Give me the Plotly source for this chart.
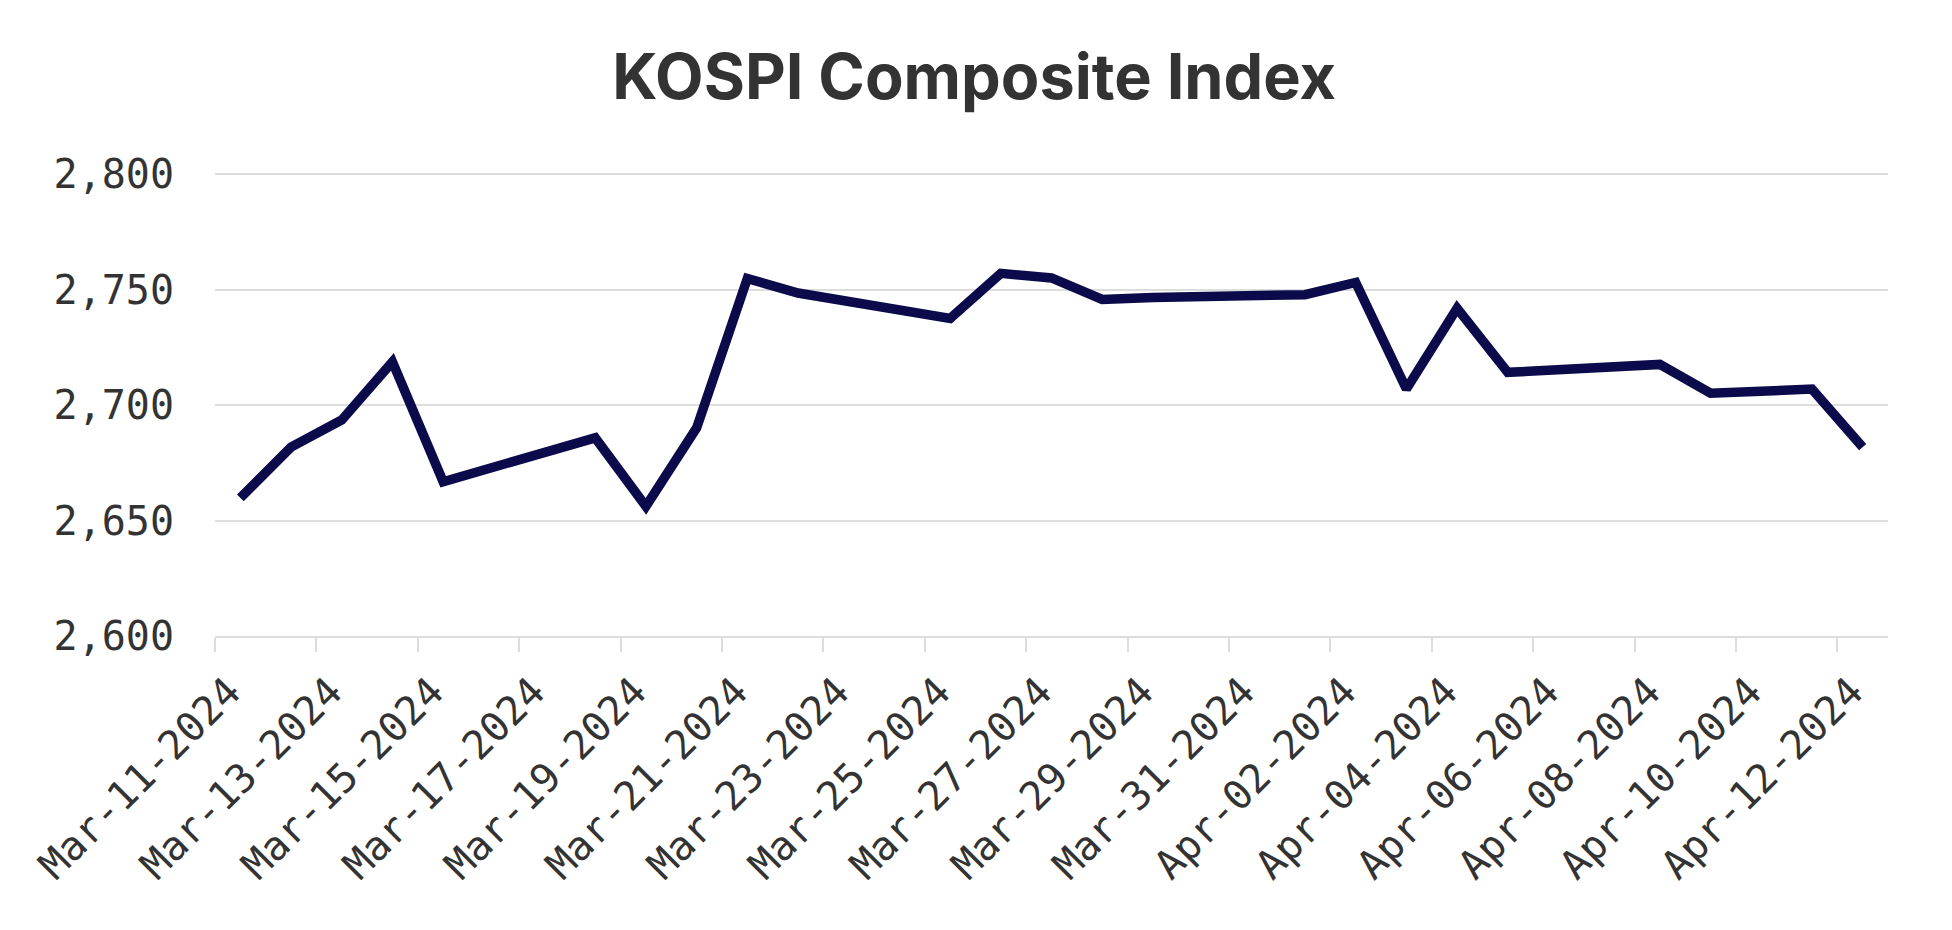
import plotly.graph_objects as go

# KOSPI daily closes (trading days only)
dates = [
    "2024-03-11", "2024-03-12", "2024-03-13", "2024-03-14", "2024-03-15",
    "2024-03-18", "2024-03-19", "2024-03-20", "2024-03-21", "2024-03-22",
    "2024-03-25", "2024-03-26", "2024-03-27", "2024-03-28", "2024-03-29",
    "2024-04-01", "2024-04-02", "2024-04-03", "2024-04-04", "2024-04-05",
    "2024-04-08", "2024-04-09", "2024-04-11", "2024-04-12",
]
closes = [
    2659.84, 2681.81, 2693.57, 2718.76, 2666.84,
    2685.84, 2656.17, 2690.14, 2754.86, 2748.56,
    2737.57, 2757.09, 2755.11, 2745.82, 2746.63,
    2747.86, 2753.16, 2706.97, 2742.00, 2714.21,
    2717.65, 2705.16, 2706.96, 2681.82,
]

tick_font = dict(family="DejaVu Sans Mono", size=40, color="#333333")

fig = go.Figure()
fig.add_trace(go.Scatter(
    x=dates, y=closes, mode="lines",
    xperiod=86400000, xperiodalignment="middle",
    line=dict(color="#0b0b4b", width=9.5),
))

fig.update_layout(
    width=1952, height=930,
    title=dict(text="<b>KOSPI Composite Index</b>", x=0.495, xanchor="center",
               y=0.926, yanchor="middle",
               font=dict(family="Inter", size=63, color="#333333")),
    paper_bgcolor="white", plot_bgcolor="white",
    showlegend=False,
    margin=dict(l=207, r=72, t=164, b=302),
)

fig.update_xaxes(
    type="date", range=["2024-03-11", "2024-04-13"], automargin=False,
    tick0="2024-03-11", dtick=2 * 86400000, tickformat="%b-%d-%Y",
    tickangle=-45, tickfont=tick_font, ticklabelshift=14,
    showgrid=False, showline=True, linecolor="#dddddd", linewidth=2,
    ticks="outside", ticklen=14, tickwidth=2, tickcolor="#dddddd",
)
fig.update_yaxes(
    range=[2600, 2801], dtick=50, tickformat=",", automargin=False,
    tickfont=tick_font, ticklabelstandoff=40,
    showgrid=True, gridcolor="#dddddd", gridwidth=2,
    zeroline=False, showline=False,
)

fig.write_html("out.html")
